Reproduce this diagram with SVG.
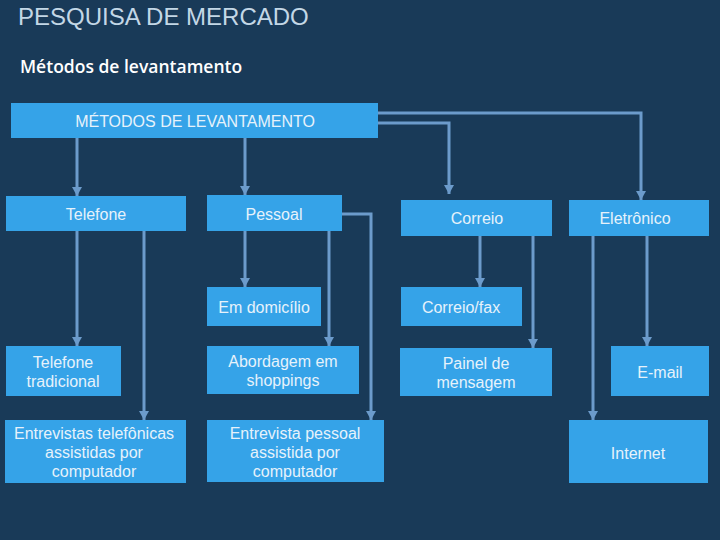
<svg xmlns="http://www.w3.org/2000/svg" width="720" height="540" viewBox="0 0 720 540">
<defs>
<marker id="ah" markerUnits="userSpaceOnUse" markerWidth="9" markerHeight="10" viewBox="0 0 9 10" refX="9" refY="5" orient="auto">
<path d="M0,0 L9,5 L0,10 Z" fill="#6c9bcb"/>
</marker>
<style>
.box{fill:#35a3e8}
.t{font-family:"Liberation Sans",Arial,sans-serif;font-size:16px;fill:#e6f2fb;text-anchor:middle}
.c{fill:none;stroke:#6c9bcb;stroke-width:3}
.ca{fill:none;stroke:#6c9bcb;stroke-width:3;marker-end:url(#ah)}
</style>
</defs>
<rect x="0" y="0" width="720" height="540" fill="#193a58"/>
<text x="18" y="25" font-family="Liberation Sans,Arial,sans-serif" font-size="24" fill="#c3d7e6">PESQUISA DE MERCADO</text>
<text x="20" y="73" font-family="Open Sans,sans-serif" font-size="17.5" font-weight="600" fill="#ffffff">Métodos de levantamento</text>

<g id="connectors">
<path class="ca" d="M77,138 V196"/>
<path class="ca" d="M245,138 V195"/>
<path class="c" d="M378,113 H641 V196"/>
<path class="ca" d="M641,196 V200"/>
<path class="ca" d="M378,123 H449 V194"/>
<path class="ca" d="M77,231 V346"/>
<path class="ca" d="M144,231 V420"/>
<path class="ca" d="M245,231 V287"/>
<path class="ca" d="M329,231 V346"/>
<path class="ca" d="M342,214 H371 V420"/>
<path class="ca" d="M480,236 V287"/>
<path class="ca" d="M533,236 V348"/>
<path class="ca" d="M593,236 V420"/>
<path class="ca" d="M647,236 V346"/>
</g>

<g id="n-top"><rect class="box" x="11" y="103" width="367" height="35"/><text class="t" x="195" y="127">MÉTODOS DE LEVANTAMENTO</text></g>
<g id="n-telefone"><rect class="box" x="6" y="196" width="180" height="35"/><text class="t" x="96" y="220">Telefone</text></g>
<g id="n-pessoal"><rect class="box" x="207" y="195" width="135" height="36"/><text class="t" x="274" y="220">Pessoal</text></g>
<g id="n-correio"><rect class="box" x="401" y="200" width="151" height="36"/><text class="t" x="477" y="224">Correio</text></g>
<g id="n-eletronico"><rect class="box" x="569" y="200" width="140" height="36"/><text class="t" x="635" y="224">Eletrônico</text></g>
<g id="n-domicilio"><rect class="box" x="207" y="287" width="114" height="39"/><text class="t" x="264" y="313">Em domicílio</text></g>
<g id="n-fax"><rect class="box" x="401" y="287" width="121" height="39"/><text class="t" x="461" y="313">Correio/fax</text></g>
<g id="n-teltrad"><rect class="box" x="6" y="346" width="115" height="50"/><text class="t" x="63" y="368">Telefone</text><text class="t" x="63" y="387">tradicional</text></g>
<g id="n-abordagem"><rect class="box" x="207" y="346" width="152" height="48"/><text class="t" x="283" y="367">Abordagem em</text><text class="t" x="283" y="386">shoppings</text></g>
<g id="n-painel"><rect class="box" x="400" y="348" width="152" height="48"/><text class="t" x="476" y="369">Painel de</text><text class="t" x="476" y="388">mensagem</text></g>
<g id="n-email"><rect class="box" x="611" y="346" width="98" height="50"/><text class="t" x="660" y="378">E-mail</text></g>
<g id="n-entrtel"><rect class="box" x="5" y="420" width="181" height="63"/><text class="t" x="94" y="439">Entrevistas telefônicas</text><text class="t" x="94" y="458">assistidas por</text><text class="t" x="94" y="477">computador</text></g>
<g id="n-entrpes"><rect class="box" x="207" y="420" width="177" height="62"/><text class="t" x="295" y="439">Entrevista pessoal</text><text class="t" x="295" y="458">assistida por</text><text class="t" x="295" y="477">computador</text></g>
<g id="n-internet"><rect class="box" x="569" y="420" width="139" height="63"/><text class="t" x="638" y="459">Internet</text></g>
</svg>
